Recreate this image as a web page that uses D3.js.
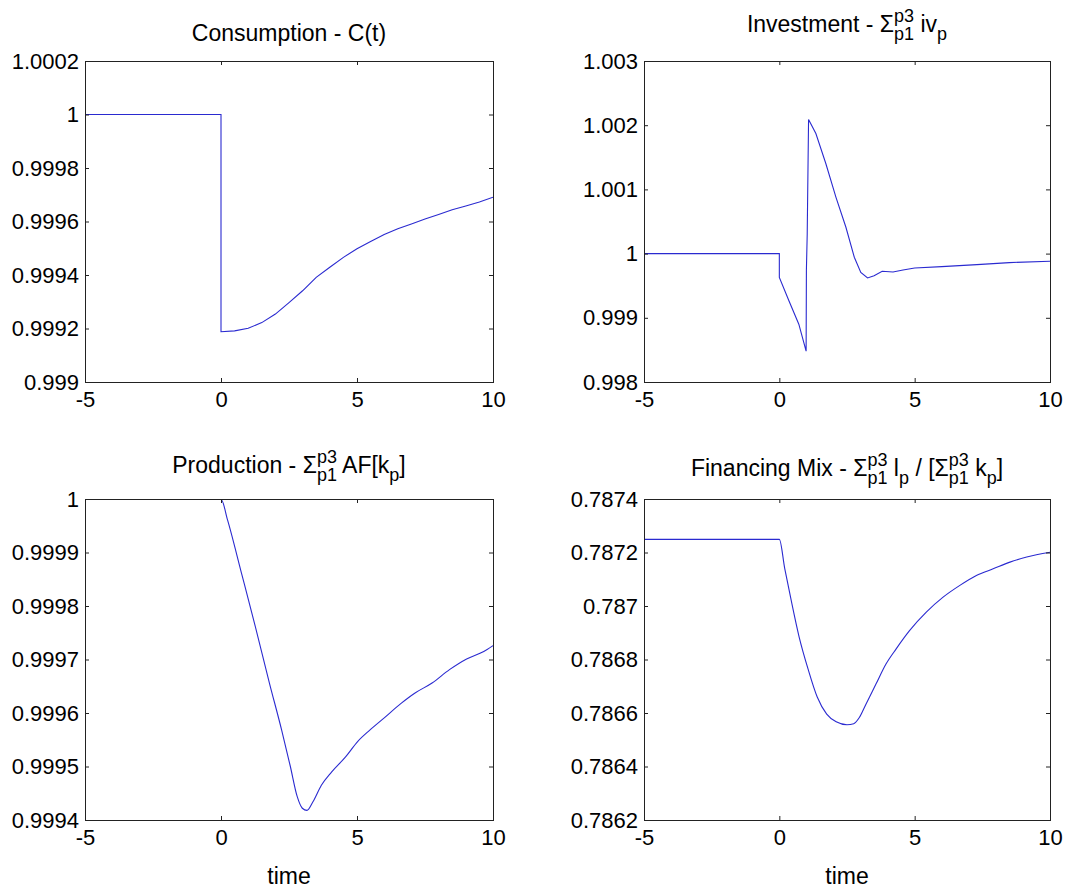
<!DOCTYPE html>
<html>
<head>
<meta charset="utf-8">
<script src="https://cdn.jsdelivr.net/npm/d3@7"></script>
<style>
  body { margin: 0; background: #fff; }
  text { font-family: Arial, "Liberation Sans", Helvetica, sans-serif; fill: #000; white-space: pre; }
</style>
</head>
<body>
<svg id="chart"></svg>
<script>
// time axis shared by all panels
var xTicks = [-5, 0, 5, 10];

// Consumption - C(t)
var consT = [-5, 0, 0, 0.5, 1, 1.5, 2, 2.5, 3, 3.5, 4, 4.5, 5, 5.5, 6, 6.5, 7, 7.5, 8, 8.5, 9, 9.5, 10];
var consV = [1, 1, 0.999188, 0.999191, 0.999201, 0.999222, 0.999254, 0.999297, 0.999341, 0.999391, 0.999429,
             0.999466, 0.999498, 0.999525, 0.999551, 0.999573, 0.999591, 0.999609, 0.999626, 0.999644,
             0.999658, 0.999673, 0.999691];
var consTicks = [0.999, 0.9992, 0.9994, 0.9996, 0.9998, 1, 1.0002];

// Investment
var invT = [-5, 0, 0, 0.35, 0.72, 0.99, 1.0, 1.03, 1.08, 1.35, 1.72, 2.09, 2.46, 2.77, 3.01, 3.26, 3.5,
            3.8, 4.2, 4.57, 5, 6, 7.3, 8.5, 10];
var invV = [1, 1, 0.99963, 0.99927, 0.9989, 0.99848, 0.99975, 1.0003, 1.00209, 1.00187, 1.0014, 1.00088,
            1.00041, 0.999943, 0.999708, 0.99962, 0.999656, 0.999724, 0.999714, 0.999745, 0.999776,
            0.999797, 0.999828, 0.99986, 0.99988];
var invTicks = [0.998, 0.999, 1, 1.001, 1.002, 1.003];

// Production
var prodT = [-5, 0, 0.24, 0.75, 1.26, 1.78, 2.23, 2.55, 2.8, 2.99, 3.16, 3.38, 3.69, 4.07, 4.58, 5.03,
             5.47, 5.98, 6.62, 7.12, 7.76, 8.4, 9.03, 9.66, 10];
var prodV = [1, 1, 0.999961, 0.999862, 0.999762, 0.999656, 0.999568, 0.9995, 0.999444, 0.999422, 0.999418,
             0.999434, 0.999465, 0.99949, 0.999518, 0.999547, 0.999568, 0.99959, 0.999618, 0.999637,
             0.999656, 0.999681, 0.999701, 0.999715, 0.999726];
var prodTicks = [0.9994, 0.9995, 0.9996, 0.9997, 0.9998, 0.9999, 1];

// Financing mix
var finT = [-5, 0, 0.2, 0.42, 0.73, 1.06, 1.4, 1.75, 2.1, 2.5, 2.75, 2.95, 3.2, 3.57, 3.94, 4.31, 4.81,
            5.43, 6.05, 6.67, 7.28, 7.9, 8.52, 9.14, 10];
var finV = [0.787249, 0.787249, 0.787140, 0.787030, 0.786885, 0.786765, 0.786660, 0.786596, 0.786567,
            0.786556, 0.786560, 0.786582, 0.786633, 0.786708, 0.786783, 0.786839, 0.786908, 0.786977,
            0.787033, 0.787077, 0.787114, 0.787139, 0.787164, 0.787183, 0.787201];
var finTicks = [0.7862, 0.7864, 0.7866, 0.7868, 0.787, 0.7872, 0.7874];

// titles: plain text pieces, stacked sup/sub, or plain sub
var consTitle = [{t: "Consumption - C(t)"}];
var invTitle = [{t: "Investment - Σ"}, {sup: "p3", sub: "p1"}, {t: " iv"}, {sub: "p"}];
var prodTitle = [{t: "Production - Σ"}, {sup: "p3", sub: "p1"}, {t: " AF[k"}, {sub: "p"}, {t: "]"}];
var finTitle = [{t: "Financing Mix - Σ"}, {sup: "p3", sub: "p1"}, {t: " l"}, {sub: "p"},
                {t: " / [Σ"}, {sup: "p3", sub: "p1"}, {t: " k"}, {sub: "p"}, {t: "]"}];

var width = 1066;
var height = 892;
var tickFont = 22;
var titleFont = 23;
var scriptFont = 18;
var lineColor = "#2a2ad0";

var svg = d3.select("#chart")
    .attr("width", width)
    .attr("height", height);

var panels = [
  {id: "c", left: 85,  top: 61,  w: 408, h: 321, t: consT, v: consV, ticks: consTicks, title: consTitle, titleUp: 20, xlabel: false, curve: d3.curveLinear},
  {id: "i", left: 644, top: 61,  w: 406, h: 321, t: invT,  v: invV,  ticks: invTicks,  title: invTitle,  titleUp: 29, xlabel: false, curve: d3.curveLinear},
  {id: "p", left: 85,  top: 499, w: 408, h: 321, t: prodT, v: prodV, ticks: prodTicks, title: prodTitle, titleUp: 26, xlabel: true, curve: d3.curveMonotoneX},
  {id: "f", left: 644, top: 499, w: 406, h: 321, t: finT,  v: finV,  ticks: finTicks,  title: finTitle,  titleUp: 23, xlabel: true, curve: d3.curveMonotoneX}
];

var fmt = d3.format(".6~g");
var xFmt = d => d < 0 ? "-" + Math.abs(d) : String(d);

panels.forEach(function(p) {
  var g = svg.append("g")
      .attr("transform", "translate(" + p.left + "," + p.top + ")");

  var x = d3.scaleLinear().domain([-5, 10]).range([0, p.w]);
  var y = d3.scaleLinear().domain([p.ticks[0], p.ticks[p.ticks.length - 1]]).range([p.h, 0]);

  g.append("clipPath")
      .attr("id", "clip-" + p.id)
    .append("rect")
      .attr("x", 0)
      .attr("y", 1.2)
      .attr("width", p.w)
      .attr("height", p.h - 1.2);

  var pts = p.t.map(function(d, i) { return [d, p.v[i]]; });

  var line = d3.line()
      .curve(p.curve)
      .x(d => x(d[0]))
      .y(d => y(d[1]));

  g.append("path")
      .datum(pts)
      .attr("clip-path", "url(#clip-" + p.id + ")")
      .attr("fill", "none")
      .attr("stroke", lineColor)
      .attr("stroke-width", 1.1)
      .attr("d", line);

  // inward ticks on all four sides, MATLAB style
  g.append("g").attr("transform", "translate(0," + p.h + ")")
      .call(d3.axisBottom(x).tickValues(xTicks).tickSize(-4).tickPadding(9).tickFormat(xFmt));
  g.append("g")
      .call(d3.axisTop(x).tickValues(xTicks).tickSize(-4).tickFormat(""));
  g.append("g")
      .call(d3.axisLeft(y).tickValues(p.ticks).tickSize(-4).tickPadding(6).tickFormat(fmt));
  g.append("g").attr("transform", "translate(" + p.w + ",0)")
      .call(d3.axisRight(y).tickValues(p.ticks).tickSize(-4).tickFormat(""));

  g.selectAll(".domain").remove();
  g.selectAll(".tick line").attr("stroke", "#222");
  g.selectAll(".tick text")
      .attr("fill", "#000")
      .style("font-size", tickFont + "px")
      .style("font-family", "Arial, 'Liberation Sans', sans-serif");

  g.append("rect")
      .attr("x", 0.5)
      .attr("y", 0.5)
      .attr("width", p.w)
      .attr("height", p.h)
      .attr("fill", "none")
      .attr("stroke", "#222")
      .attr("stroke-width", 1);

  drawTitle(g, p.title, p.w / 2, -p.titleUp);

  if (p.xlabel) {
    g.append("text")
        .attr("x", p.w / 2)
        .attr("y", p.h + 64)
        .attr("text-anchor", "middle")
        .style("font-size", titleFont + "px")
        .text("time");
  }
});

function drawTitle(g, tokens, cx, base) {
  var tg = g.append("g");
  var cur = 0;
  tokens.forEach(function(tok) {
    if (tok.t !== undefined) {
      var n = tg.append("text")
          .attr("x", cur).attr("y", base)
          .style("font-size", titleFont + "px")
          .text(tok.t);
      cur += n.node().getComputedTextLength();
    } else {
      var wMax = 0;
      if (tok.sup !== undefined) {
        var a = tg.append("text")
            .attr("x", cur).attr("y", base - 10)
            .style("font-size", scriptFont + "px")
            .text(tok.sup);
        wMax = Math.max(wMax, a.node().getComputedTextLength());
      }
      if (tok.sub !== undefined) {
        var b = tg.append("text")
            .attr("x", cur).attr("y", base + 8)
            .style("font-size", scriptFont + "px")
            .text(tok.sub);
        wMax = Math.max(wMax, b.node().getComputedTextLength());
      }
      cur += wMax;
    }
  });
  tg.attr("transform", "translate(" + (cx - cur / 2) + ",0)");
}
</script>
</body>
</html>
